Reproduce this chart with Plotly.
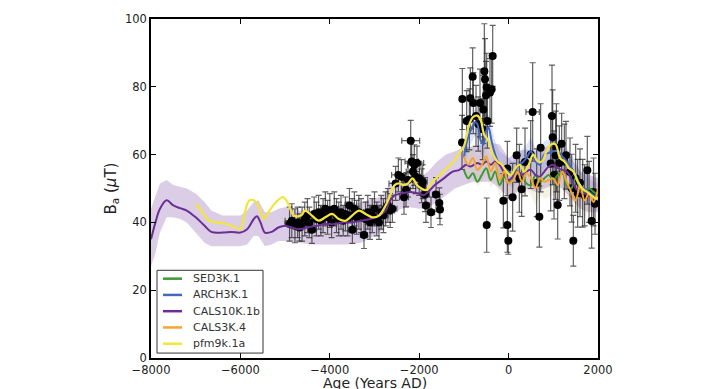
import plotly.graph_objects as go

# ---------------- data ----------------
cals10k_year = [-8000,-7900,-7800,-7650,-7500,-7350,-7200,-7000,-6800,-6650,-6400,-6200,-6000,-5850,-5700,-5630,-5550,-5450,-5300,-5150,-5000,-4850,-4700,-4500,-4300,-4100,-3900,-3700,-3500,-3300,-3100,-2900,-2750,-2650,-2550,-2400,-2200,-2000,-1900,-1800,-1650,-1450,-1250,-1100,-950,-850,-700,-600,-500,-400,-300,-200,-100,0,100,200,300,400,500,600,700,800,900,1000,1100,1200,1300,1400,1500,1600,1700,1800,1900,2000]
cals10k_val = [35,40,44,46.5,45,44.2,43.5,41.5,39,37.2,37,37.2,37,38,41,41.8,40,37,37.2,38.5,39,38.5,38,38.5,39,39.5,39.5,40,40,40.5,41,42,43.5,46.5,48,48.5,49,48.5,48,49,51,53,55,55.5,57,56.5,57.5,57,58,57,58,57,54.5,52.5,53.5,55,54,55,55.5,54,53.5,55,56.5,57,56,55.5,55,53,50,49,48.5,48,47.5,48]

band_year = [-8000,-7900,-7800,-7650,-7500,-7350,-7200,-7000,-6800,-6650,-6400,-6200,-6000,-5850,-5700,-5600,-5450,-5300,-5150,-5000,-4700,-4400,-4000,-3600,-3300,-3000,-2800,-2650,-2400,-2200,-2000,-1800,-1600,-1400,-1200,-1000,-800,-600,-400,-200,0,200,400,600,800,1000,1200,1400,1600,1800,2000]
band_lo = [27,31,37,41.5,41.5,41,40,37,34,33,33,33,33,33.5,36,36,33,33.5,34.5,34.5,34,33.5,33.5,33.5,34,36,38,42,44,44.5,44,44.5,46,48,50,51,52,52,52,50,47,49,50,49,50,51,50,47,44,43,43]
band_hi = [44,48,51.5,52.5,51,50.5,50,48.5,46,43.5,42,42,42,43.5,46,46.5,43,43,44,44.5,43.5,43.5,44.5,45,46,47,48,52,52,53,53,55,58,60,61,62,62.5,63,63.5,63,59,61,61.5,61,62,63,62,59,55,54,53]

pfm_year = [-7000,-6850,-6700,-6500,-6300,-6100,-6000,-5900,-5800,-5700,-5600,-5480,-5350,-5200,-5050,-4950,-4800,-4650,-4550,-4400,-4250,-4100,-3950,-3800,-3650,-3500,-3350,-3200,-3050,-2900,-2750,-2650,-2550,-2450,-2350,-2250,-2150,-2050,-1950,-1850,-1700,-1500,-1300,-1150,-1000,-900,-800,-700,-620,-550,-450,-350,-250,-150,-50,50,150,250,350,450,550,650,750,850,950,1050,1150,1250,1350,1450,1550,1650,1750,1850,1950,2000]
pfm_val = [45.5,43,40.5,40,39.5,38.5,38,43,46.5,46.5,45,41,43.5,46,47.5,46,42,42,43.5,42,40.5,41.5,42.5,41,40.5,42,43.5,42.5,41.5,42,45,48,51,51.5,51,51.5,53,51,50,49.5,52,54.5,57,59.5,62.5,68,71,71.5,70,66,64,60,58,57,55,54,56,57,55,57,60,58,58,61,63,63,59,58,56,55,52,50,49,48,47,47.5]

arch_year = [-1000,-950,-850,-750,-700,-620,-560,-500,-450,-380,-300,-200,-100,0,100,200,300,400,500,600,700,800,900,1000,1100,1200,1300,1400,1500,1600,1700,1800,1900,2000]
arch_val = [59,63,67,69.5,69,64,63,67,68,64,60,57,56,55,54,56.5,57.5,59,61,58,57,60,60.5,61,61,59.5,58,56,54,51,50,49,48,47.5]

cals3k_year = [-1000,-900,-800,-700,-600,-500,-400,-300,-200,-100,0,100,200,300,400,500,600,700,800,900,1000,1100,1200,1300,1400,1500,1600,1700,1800,1900,2000]
cals3k_val = [59.5,57,59,55.5,57,59.5,55,57.5,52.5,55,51.5,52.5,55,52,54.5,53,50,53,52,52.5,53,51,55,52,49,46.5,51,46.5,48.5,46,50]

sed_year = [-1000,-900,-800,-700,-600,-500,-400,-300,-200,-100,0,100,200,300,400,500,600,700,800,900,1000,1100,1200,1300,1400,1500,1600,1700,1800,1900,2000]
sed_val = [55.5,53,54.5,52,54,56,52.5,55,51,53.5,52,52.5,55,54,51.5,51,54,52,53,54,52.5,54,55,51,50,53,50,49,50,49,48]

pts = [
(-4900,39.5,5,100),(-4850,40.5,5,150),(-4780,39,5,100),(-4720,40,4.5,100),(-4680,38.5,4,80),(-4620,39.5,5,100),
(-4560,41,5,100),(-4500,42,5,100),(-4460,40,4.5,80),(-4400,37.8,4,80),(-4350,42.5,5,100),(-4300,41,5,100),
(-4250,43,5,100),(-4200,40.5,4.5,100),(-4150,42,5,100),(-4100,44,5,100),(-4050,41.5,5,100),(-4000,43.5,5,100),
(-3960,40,4.5,80),(-3900,44,5,100),(-3850,42,5,100),(-3800,41,5,100),(-3750,43,5,100),(-3700,40.5,4.5,100),
(-3650,42.5,5,100),(-3600,41,5,100),(-3560,45,5,100),(-3500,42,5,100),(-3495,37.8,4,80),(-3450,44,5,100),
(-3400,41.5,5,100),(-3350,43,5,100),(-3300,42,5,100),(-3235,36.3,4,80),(-3200,41,5,100),(-3150,43,5,100),
(-3100,40,5,100),(-3050,42,5,100),(-3000,44,5,100),(-2950,41,5,100),(-2900,40,5,100),(-2850,43,5,100),
(-2800,42,5,100),(-2750,44,5,100),(-2700,45,5,100),(-2650,43.5,5,100),(-2600,44,4,100),
(-2527,51.5,5,150),(-2467,54,5,150),(-2400,53.5,5,100),(-2340,47.4,5,100),(-2295,49.6,5,100),(-2250,52.5,5,100),
(-2190,64.1,6,200),(-2168,58,6,150),(-2140,55,5,150),(-2110,56.9,6,150),(-2080,53.5,5,100),(-2050,57.5,5,150),
(-2000,53,5,100),(-1945,50.8,5,100),(-1920,52,5,100),(-1870,48.2,5,100),(-1848,45,5,80),(-1736,43,4.5,80),
(-1624,48.2,5,80),(-1550,45.7,4.5,50),(-1535,43.8,4.5,50),
(-1035,76.4,9,50),(-1042,63.6,8,50),(-938,69.9,9,50),(-878,70.4,9,50),(-856,76.6,9,50),(-804,83,8.5,50),
(-789,75.2,9,50),(-729,71.4,9,50),(-680,69,8,50),(-640,75.2,10,50),(-580,67.5,9,50),(-565,73.3,10,50),
(-543,84.6,14,50),(-528,82.2,12,50),(-505,77.5,10,50),(-490,79.9,10,50),(-475,69.9,8,50),(-490,39.2,8,0),
(-416,78.3,10,50),(-379,79.3,10,50),(-356,89.1,9,50),
(-118,46.4,8,30),(-28,39.2,8,30),(-6,34.6,4,30),(-28,55.9,8,30),(91,47.4,10,30),(180,59.8,8,60),
(240,53,10,30),(292,49.8,8,30),(367,57.8,10,30),(494,60,10,30),(538,72.6,14.5,150),(628,51.7,10,30),
(688,41.7,9,30),(717,62,13,30),(971,71.4,15,30),(986,65.1,14,30),(941,57.4,14,30),(1016,54,13,30),
(1053,59.8,13,30),(1070,62,13,30),(1098,45.1,10,30),(1135,57.5,11,30),(1187,63.2,9,30),(1247,58,11,30),
(1284,59.8,10,30),(1374,54.9,10,30),(1411,50.1,10,30),(1448,34.6,7.5,30),(1500,53,10,30),(1545,48.6,10,30),
(1597,51.7,10,30),(1657,48.6,10,30),(1700,48,9,30),(1761,55.4,10,30),(1800,49,9,30),(1858,40.4,8,30),
(1900,49,10,30),(1933,45.5,9,30),
]
pt_year = [p[0] for p in pts]
pt_val = [p[1] for p in pts]
pt_yerr = [p[2] for p in pts]
pt_xerr = [p[3] for p in pts]

series_names = ["SED3K.1", "ARCH3K.1", "CALS10K.1b", "CALS3K.4", "pfm9k.1a"]
x_ticks = [-8000, -6000, -4000, -2000, 0, 2000]
y_ticks = [0, 20, 40, 60, 80, 100]

# ---------------- styles ----------------
C_SED = "#3f9a36"
C_ARCH = "#4468c0"
C_CALS10 = "#6b2f93"
C_CALS3 = "#f6a432"
C_PFM = "#f4e53c"
series_colors = [C_SED, C_ARCH, C_CALS10, C_CALS3, C_PFM]

W, H = 718, 389
ML, MR, MT, MB = 151, 120, 15, 30
PW, PH = W - ML - MR, H - MT - MB

def px_x(px):
    return (px - ML) / PW

def px_y(py):
    return (H - MB - py) / PH

fig = go.Figure()

def band(xs, lo, hi, color):
    fig.add_trace(go.Scatter(x=xs + xs[::-1], y=hi + lo[::-1], fill="toself",
                             fillcolor=color, line=dict(width=0), mode="lines",
                             showlegend=False, hoverinfo="skip"))

band(band_year, band_lo, band_hi, "rgba(140,100,175,0.32)")
band(arch_year, [v - 4 for v in arch_val], [v + 4 for v in arch_val], "rgba(80,110,210,0.18)")
band(cals3k_year, [v - 5 for v in cals3k_val], [v + 4 for v in cals3k_val], "rgba(200,180,120,0.18)")

fig.add_trace(go.Scatter(x=pt_year, y=pt_val, mode="markers",
                         marker=dict(color="black", size=8),
                         error_y=dict(type="data", array=pt_yerr, color="rgba(30,30,30,0.7)", thickness=1.2, width=3),
                         error_x=dict(type="data", array=pt_xerr, color="rgba(30,30,30,0.7)", thickness=1.2, width=3),
                         showlegend=False))

line_data = [(sed_year, sed_val), (arch_year, arch_val), (cals10k_year, cals10k_val),
             (cals3k_year, cals3k_val), (pfm_year, pfm_val)]
for (xs, ys), name, col in zip(line_data, series_names, series_colors):
    fig.add_trace(go.Scatter(x=xs, y=ys, mode="lines", name=name, showlegend=False,
                             line=dict(color=col, width=2.2 if name == "pfm9k.1a" else 2, shape="spline")))

# ---------------- manual legend (matplotlib-like compact box) ----------------
shapes = [dict(type="rect", xref="paper", yref="paper",
               x0=px_x(157), x1=px_x(263), y0=px_y(354), y1=px_y(270),
               line=dict(color="#333", width=1), fillcolor="white", layer="above")]
annotations = []
entry_y = [278.5, 295, 311.5, 328, 344.5]
for name, col, ey in zip(series_names, series_colors, entry_y):
    shapes.append(dict(type="line", xref="paper", yref="paper",
                       x0=px_x(163), x1=px_x(182), y0=px_y(ey), y1=px_y(ey),
                       line=dict(color=col, width=2.5), layer="above"))
    annotations.append(dict(text=name, xref="paper", yref="paper", x=px_x(191), y=px_y(ey),
                            xanchor="left", yanchor="middle", showarrow=False,
                            font=dict(family="DejaVu Sans", size=11, color="#333")))

annotations += [
    dict(text="Age (Years AD)", xref="paper", yref="paper", x=0.5, y=0, yshift=-15,
         xanchor="center", yanchor="top", showarrow=False,
         font=dict(family="DejaVu Sans", size=14, color="#222")),
    dict(text="B<sub>a</sub> (<i>\u03bc</i>T)", xref="paper", yref="paper", x=0, xshift=-40, y=0.5,
         xanchor="center", yanchor="middle", textangle=-90, showarrow=False,
         font=dict(family="DejaVu Sans", size=15, color="#222")),
]

axis_common = dict(showgrid=False, zeroline=False, showline=True, linecolor="black", linewidth=1.5,
                   mirror="ticks", ticks="inside", ticklen=5, tickcolor="black",
                   tickfont=dict(family="DejaVu Sans", size=11.5, color="#222"))

fig.update_layout(
    width=W, height=H,
    margin=dict(l=ML, r=MR, t=MT, b=MB),
    paper_bgcolor="white", plot_bgcolor="white",
    showlegend=False,
    xaxis=dict(range=[-8000, 2000], tickvals=x_ticks,
               ticktext=[("\u2212" + str(-v)) if v < 0 else str(v) for v in x_ticks], **axis_common),
    yaxis=dict(range=[0, 100], tickvals=y_ticks, **axis_common),
    shapes=shapes,
    annotations=annotations,
)

fig.write_html("out.html")
